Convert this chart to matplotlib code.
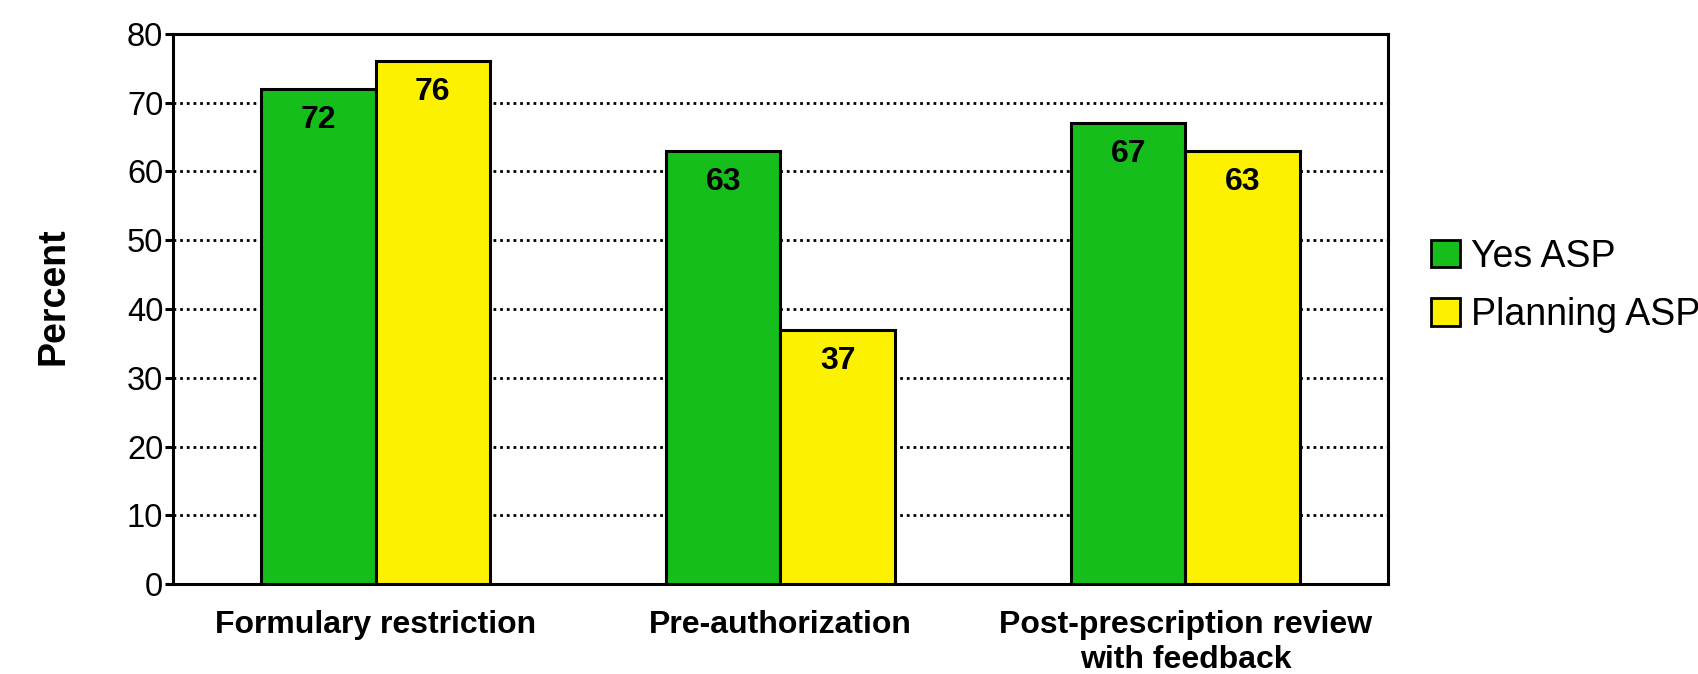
import numpy as np
import matplotlib.pyplot as plt
from matplotlib.patches import Patch

plt.rcParams['font.family'] = ['Liberation Sans', 'DejaVu Sans']

categories = ["Formulary restriction", "Pre-authorization",
              "Post-prescription review\nwith feedback"]
yes_asp = [72, 63, 67]
planning_asp = [76, 37, 63]
series_names = ["Yes ASP", "Planning ASP"]

GREEN = '#16BE1C'
YELLOW = '#FCF200'

fig = plt.figure(figsize=(16.98, 6.74), dpi=100)
ax = fig.add_axes([0.1019, 0.1335, 0.7155, 0.8161])

x = np.arange(len(categories))
w = 0.283
b1 = ax.bar(x - w/2, yes_asp, w, color=GREEN, edgecolor='black', linewidth=2.2, zorder=3)
b2 = ax.bar(x + w/2, planning_asp, w, color=YELLOW, edgecolor='black', linewidth=2.2, zorder=3)

# value labels just under the top of each bar
for bars, vals in ((b1, yes_asp), (b2, planning_asp)):
    for r, v in zip(bars, vals):
        ax.annotate(str(v), (r.get_x() + r.get_width()/2, v), xytext=(0, -31),
                    textcoords='offset pixels', ha='center', va='center',
                    fontsize=23, fontweight='bold', zorder=4)

ax.set_xlim(-0.5, 2.5)
ax.set_ylim(0, 80)
ax.set_yticks(range(0, 81, 10))
ax.yaxis.grid(True, linestyle=(0, (1, 1.4)), color='black', linewidth=2, zorder=0)
ax.set_axisbelow(True)
for s in ax.spines.values():
    s.set_linewidth(2.2)

ax.set_xticks(x)
ax.set_xticklabels(categories, fontsize=23, fontweight='bold', linespacing=1.2)
ax.tick_params(axis='x', length=0, pad=19)
ax.tick_params(axis='y', labelsize=23.5, length=6, width=2.2, pad=1)
ax.set_ylabel("Percent", fontsize=27, fontweight='bold')
ax.yaxis.set_label_coords(-0.0832, 0.524)

handles = [Patch(facecolor=GREEN, edgecolor='black', linewidth=2),
           Patch(facecolor=YELLOW, edgecolor='black', linewidth=2)]
fig.legend(handles, series_names, loc='center left', bbox_to_anchor=(0.832, 0.576),
           frameon=False, fontsize=27, handlelength=0.75, handleheight=0.75,
           handletextpad=0.3, labelspacing=0.6, borderpad=0)

fig.savefig('out.png', dpi=100)
